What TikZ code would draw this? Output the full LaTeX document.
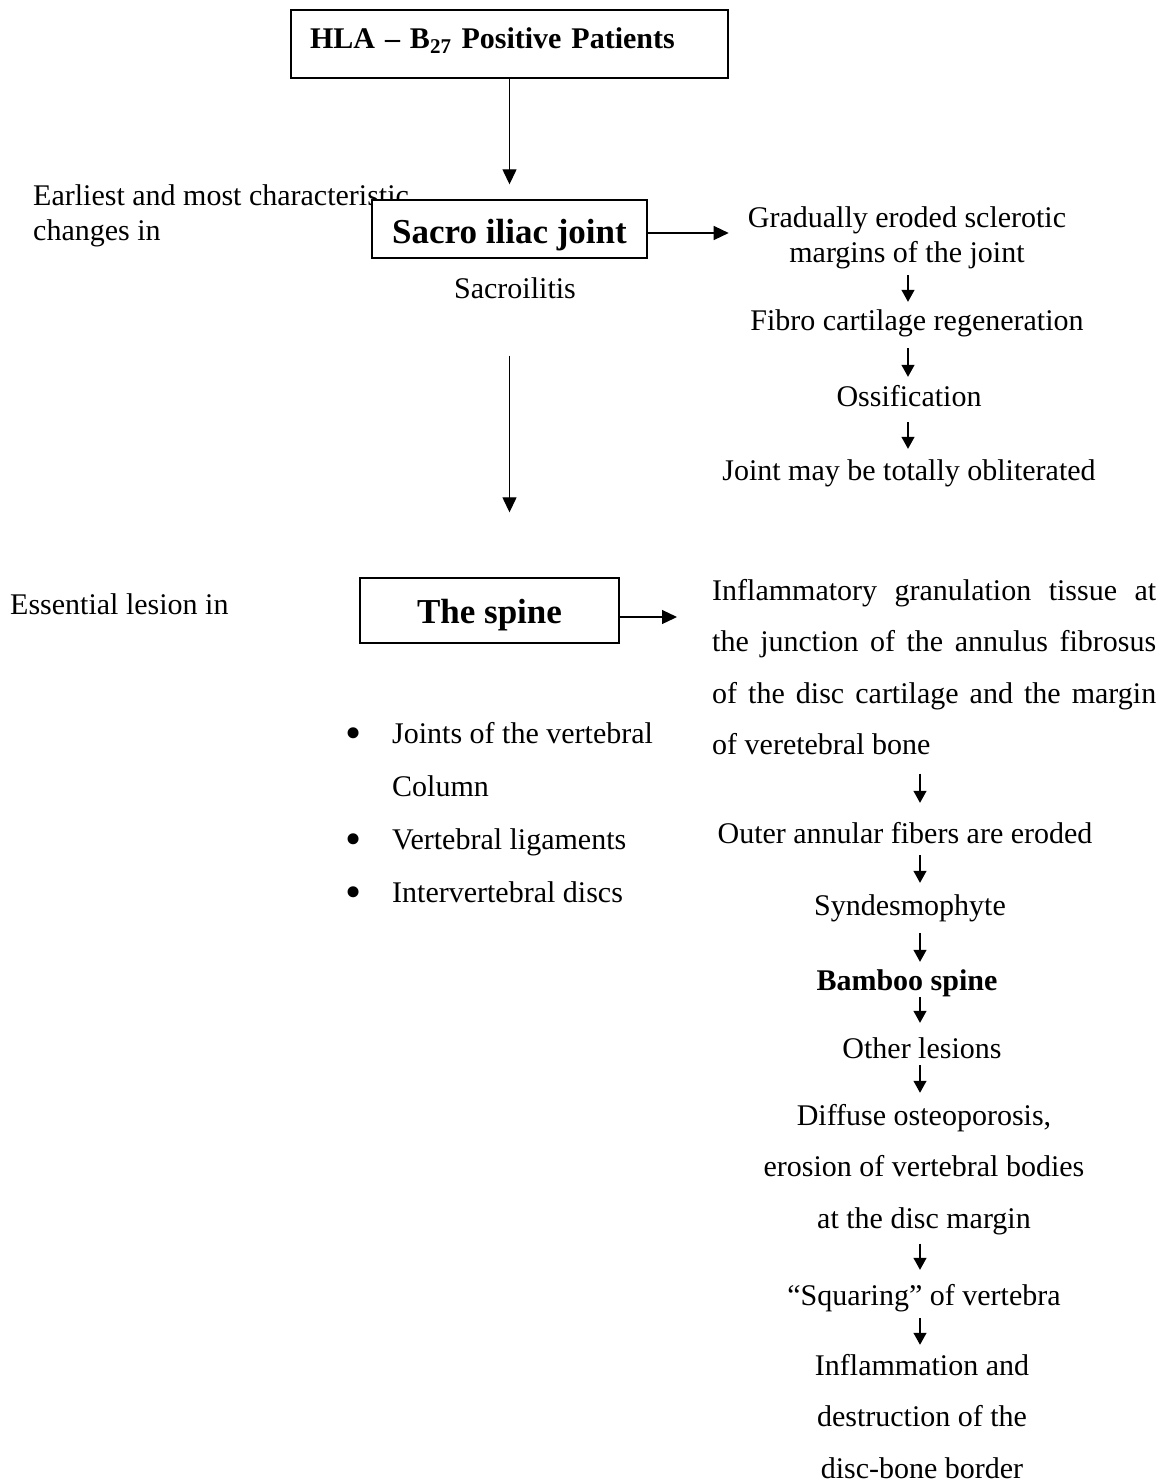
\documentclass[tikz,border=0pt]{standalone}
\usepackage{fontspec}
\setmainfont{Liberation Serif}
\usepackage{tikz}
\usetikzlibrary{positioning, calc, arrows.meta}

\newcommand{\bigdot}{\raisebox{-5pt}{\fontsize{46}{46}\selectfont\textbullet}}

\begin{document}
\begin{tikzpicture}[x=1pt, y=-1pt, every node/.style={inner sep=0pt}]
		%%	one unit is one pixel of the page, y runs downwards
		\tikzstyle{boxr}=[draw=black, line width=1.4pt, fill=white, font=\fontsize{35}{40}\selectfont\bfseries]
		\tikzstyle{stage}=[font=\fontsize{30}{35}\selectfont, text height=21pt, text depth=7pt, anchor=base]
		\tikzstyle{stagebf}=[stage, font=\fontsize{30}{35}\selectfont\bfseries]
		\tikzstyle{multi}=[font=\fontsize{30}{51.5}\selectfont, anchor=base]
		\tikzstyle{arr}=[-{Triangle[length=15pt, width=14pt]}, line width=1.3pt]
		\tikzstyle{sarr}=[-{Triangle[length=12pt, width=13pt]}, line width=1.3pt]
		
		\path[fill=white, use as bounding box] (0,0) rectangle (1164,1484);
		
		%%	left column
		\node[anchor=base west, font=\fontsize{30}{35}\selectfont] (earliest) at (33,205) {\begin{tabular}[t]{@{}l@{}}Earliest and most characteristic\\ changes in\end{tabular}};
		\node[stage] (sacroil) at (515,298) {Sacroilitis};
		\node[stage, anchor=base west] (essential) at (10,614) {Essential lesion in};
		\node[anchor=base west, font=\fontsize{30}{53}\selectfont] (parts) at (345,743) {\begin{tabular}[t]{@{}l@{}l@{}}\makebox[47pt][l]{\bigdot} & Joints of the vertebral\\ & Column\\ \bigdot & Vertebral ligaments\\ \bigdot & Intervertebral discs\end{tabular}};
		
		%%	boxes
		\node[boxr, font=\fontsize{30}{36}\selectfont\bfseries, minimum width=437pt, minimum height=68pt, text width=399pt, align=left, text height=22pt, text depth=14pt] (hla) at (509.5,44) {HLA – B\textsubscript{27} Positive Patients};
		\node[boxr, minimum width=275pt, minimum height=58pt, text height=30pt, text depth=2pt] (sacro) at (509.5,229) {Sacro iliac joint};
		\node[boxr, minimum width=259pt, minimum height=65pt, text height=28pt, text depth=3pt] (spine) at (489.5,610.5) {The spine};
		
		%%	sacro iliac chain
		\node[anchor=base, font=\fontsize{30}{35}\selectfont] (grad) at (907,227) {\begin{tabular}[t]{@{}c@{}}Gradually eroded sclerotic\\ margins of the joint\end{tabular}};
		\node[stage] (fibro) at (917,330) {Fibro cartilage regeneration};
		\node[stage] (ossif) at (909,406) {Ossification};
		\node[stage] (oblit) at (909,480) {Joint may be totally obliterated};
		
		%%	spine chain
		\node[anchor=base west, font=\fontsize{30}{51.5}\selectfont] (infl) at (712,600) {\parbox[t]{444pt}{\noindent Inflammatory granulation tissue at\linebreak the junction of the annulus fibrosus\linebreak of the disc cartilage and the margin\linebreak of veretebral bone}};
		\node[stage] (outer) at (905,843) {Outer annular fibers are eroded};
		\node[stage] (syndes) at (910,915) {Syndesmophyte};
		\node[stagebf] (bamboo) at (907,990) {Bamboo spine};
		\node[stage] (other) at (922,1058) {Other lesions};
		\node[multi] (diffuse) at (924,1125) {\begin{tabular}[t]{@{}c@{}}Diffuse osteoporosis,\\ erosion of vertebral bodies\\ at the disc margin\end{tabular}};
		\node[stage] (squar) at (924,1305) {“Squaring” of vertebra};
		\node[multi] (inflam) at (922,1375) {\begin{tabular}[t]{@{}c@{}}Inflammation and\\ destruction of the\\ disc-bone border\end{tabular}};
		
		\coordinate (axisA) at (908,0);
		\coordinate (axisB) at (920,0);
		
		%%	main arrows
		\draw[arr, shorten >=15pt] (hla.south) -- (sacro.north);
		\draw[arr, shorten >=19pt] ([yshift=-4pt]sacro.east) -- ([yshift=-4pt]sacro.east -| grad.west);
		\draw[arr, shorten <=97pt, shorten >=65pt] (sacro.south) -- (sacro.south |- spine.north);
		\draw[arr, shorten >=35pt] ([yshift=-6.5pt]spine.east) -- ([yshift=-6.5pt]spine.east -| infl.west);
		
		%%	small arrows
		\draw[sarr, shorten <=2.5pt, shorten >=7pt] (grad.south -| axisA) -- (fibro.north -| axisA);
		\draw[sarr, shorten <=11pt, shorten >=8pt] (fibro.south -| axisA) -- (ossif.north -| axisA);
		\draw[sarr, shorten <=9pt, shorten >=10pt] (ossif.south -| axisA) -- (oblit.north -| axisA);
		\draw[sarr, shorten <=18.5pt, shorten >=19pt] (infl.south -| axisB) -- (outer.north -| axisB);
		\draw[sarr, shorten <=5pt, shorten >=11pt] (outer.south -| axisB) -- (syndes.north -| axisB);
		\draw[sarr, shorten <=11pt, shorten >=7pt] (syndes.south -| axisB) -- (bamboo.north -| axisB);
		\draw[sarr, shorten >=14pt] (bamboo.south -| axisB) -- (other.north -| axisB);
		\draw[sarr, shorten >=-4pt] (other.south -| axisB) -- (diffuse.north -| axisB);
		\draw[sarr, shorten >=14pt] (diffuse.south -| axisB) -- (squar.north -| axisB);
		\draw[sarr, shorten <=6pt, shorten >=-6pt] (squar.south -| axisB) -- (inflam.north -| axisB);
		
\end{tikzpicture}
\end{document}
